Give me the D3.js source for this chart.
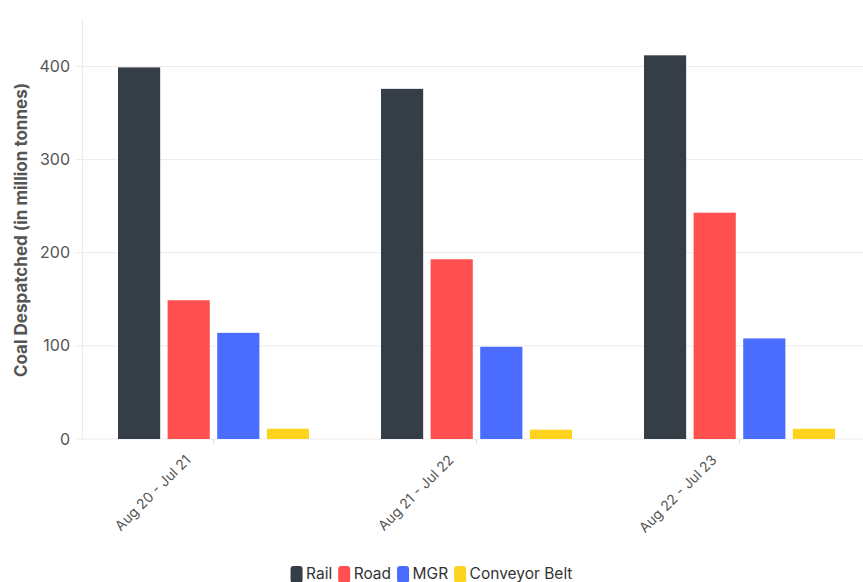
<!DOCTYPE html>
<html>
<head>
<meta charset="utf-8">
<script src="https://cdn.jsdelivr.net/npm/d3@7"></script>
<style>
  body { margin: 0; background: #fff; }
  text { font-family: Inter, "Noto Sans", sans-serif; }
</style>
</head>
<body>
<div id="chart"></div>
<script>
const periods = ["Aug 20 - Jul 21", "Aug 21 - Jul 22", "Aug 22 - Jul 23"];
const modes = ["Rail", "Road", "MGR", "Conveyor Belt"];
const rail = [399, 376, 412];
const road = [149, 193, 243];
const mgr = [114, 99, 108];
const conveyor = [11, 10, 11];
const yTicks = [0, 100, 200, 300, 400];
const colors = ["#353e47", "#ff4f4f", "#4a6cff", "#fdd31e"];

const seriesValues = [rail, road, mgr, conveyor];
const rows = periods.map((p, i) => ({
    period: p,
    values: modes.map((m, j) => ({ mode: m, value: seriesValues[j][i] }))
}));

const width = 863, height = 582;
const plotLeft = 82, plotBottom = 439, plotTop = 19;

const svg = d3.select("#chart").append("svg")
    .attr("width", width)
    .attr("height", height);

const x = d3.scaleBand()
    .domain(periods)
    .range([plotLeft, 871])
    .paddingInner(0)
    .paddingOuter(0);

const x1 = d3.scaleBand()
    .domain(modes)
    .range([36, x.bandwidth() - 36])
    .paddingInner(0.15)
    .paddingOuter(0);

const y = d3.scaleLinear()
    .domain([0, 451])
    .range([plotBottom, plotTop]);

const color = d3.scaleOrdinal().domain(modes).range(colors);

// grid lines
svg.append("g")
    .selectAll("line")
    .data(yTicks)
    .join("line")
    .attr("x1", plotLeft - 7)
    .attr("x2", width)
    .attr("y1", d => y(d))
    .attr("y2", d => y(d))
    .attr("stroke", "#ececec")
    .attr("stroke-width", 1);

// left axis line
svg.append("line")
    .attr("x1", plotLeft + 0.5)
    .attr("x2", plotLeft + 0.5)
    .attr("y1", plotTop)
    .attr("y2", plotBottom)
    .attr("stroke", "#ececec");

// y tick labels
svg.append("g")
    .selectAll("text")
    .data(yTicks)
    .join("text")
    .attr("x", plotLeft - 12)
    .attr("y", d => y(d))
    .attr("dy", "0.35em")
    .attr("text-anchor", "end")
    .attr("font-size", 16)
    .attr("fill", "#555")
    .text(d => d);

// y title
svg.append("text")
    .attr("transform", `translate(27, 230) rotate(-90)`)
    .attr("text-anchor", "middle")
    .attr("font-size", 17)
    .attr("font-weight", 700)
    .attr("fill", "#555")
    .text("Coal Despatched (in million tonnes)");

// bars
const groups = svg.append("g")
    .selectAll("g")
    .data(rows)
    .join("g")
    .attr("transform", d => `translate(${x(d.period)},0)`);

groups.selectAll("rect")
    .data(d => d.values)
    .join("rect")
    .attr("x", d => x1(d.mode))
    .attr("width", x1.bandwidth())
    .attr("y", d => y(d.value))
    .attr("height", d => y(0) - y(d.value))
    .attr("fill", d => color(d.mode));

// x ticks and labels
const xt = svg.append("g")
    .selectAll("g")
    .data(periods)
    .join("g")
    .attr("transform", d => `translate(${x(d) + x.bandwidth() / 2},${plotBottom})`);

xt.append("line")
    .attr("y1", 0)
    .attr("y2", 5)
    .attr("stroke", "#ddd");

xt.append("text")
    .attr("transform", "translate(-22, 22) rotate(-45)")
    .attr("text-anchor", "end")
    .attr("font-size", 14)
    .attr("fill", "#555")
    .text(d => d);

// legend
const legend = svg.append("g");
let lx = 0;
modes.forEach(m => {
    const item = legend.append("g").attr("transform", `translate(${lx},0)`);
    item.append("rect")
        .attr("x", 0)
        .attr("y", -8)
        .attr("width", 12)
        .attr("height", 17)
        .attr("rx", 3)
        .attr("fill", color(m));
    const t = item.append("text")
        .attr("x", 15.5)
        .attr("y", 0)
        .attr("dy", "0.35em")
        .attr("font-size", 15.5)
        .attr("fill", "#333")
        .text(m);
    lx += 15.5 + t.node().getComputedTextLength() + 6;
});
legend.attr("transform", `translate(${(width - (lx - 6)) / 2}, 574)`);
</script>
</body>
</html>
